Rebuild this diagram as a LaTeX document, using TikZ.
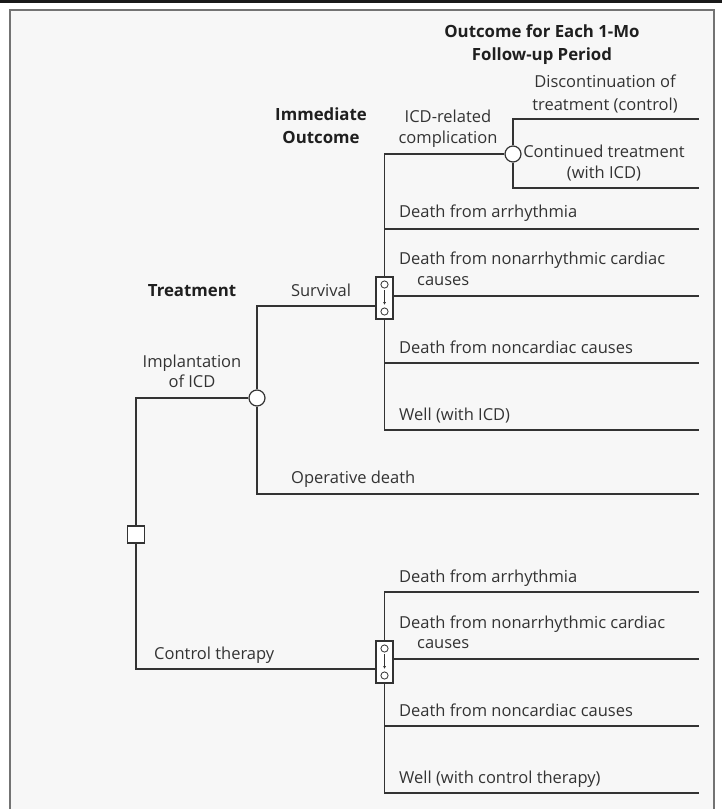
\documentclass[tikz,border=0pt]{standalone}
\usepackage{fontspec}
\setmainfont{Open Sans}
\usetikzlibrary{arrows.meta}
\begin{document}
\begin{tikzpicture}[x=1pt,y=-1pt,
  txt/.style={inner sep=0pt, text=black!80, font=\fontsize{16.5}{19}\selectfont},
  lt/.style={txt, anchor=base west},
  ct/.style={txt, anchor=base},
  hd/.style={txt, anchor=base, font=\fontsize{16.8}{19}\selectfont\bfseries, text=black!88},
  br/.style={draw=black!80, line width=1.4pt},
  chance/.style={circle, draw=black!80, line width=1.2pt, fill=white, minimum size=16pt, inner sep=0pt},
  decision/.style={rectangle, draw=black!80, line width=1.2pt, fill=white, minimum size=17pt, inner sep=0pt},
  markov/.style={rectangle, draw=black!80, line width=1.2pt, fill=white, minimum width=17pt, minimum height=42pt, inner sep=0pt},
]
\useasboundingbox (0,0) rectangle (722,809);
% background and frame
\fill[white] (0,0) rectangle (722,809);
\fill[black!3] (10,10) rectangle (714,809);
\fill[black!90] (0,0) rectangle (722,3.2);
\draw[black!55, line width=2.6pt] (10,812) -- (10,10) -- (714,10) -- (714,812);

% nodes
\node[decision] (d) at (136,534.5) {};
\node[chance] (c1) at (257,398) {};
\node[chance] (c2) at (513,154) {};
\node[markov] (m1) at (384.5,298) {};
\node[markov] (m2) at (384.5,662) {};

% markov box contents
\foreach \m in {m1,m2}{
  \draw[black!80, line width=0.8pt] ([yshift=13.5pt]\m.center) circle (3.6pt);
  \draw[black!80, line width=0.8pt] ([yshift=-13.5pt]\m.center) circle (3.6pt);
  \draw[black!80, line width=0.8pt, -{Latex[length=3pt,width=3pt]}] ([yshift=8pt]\m.center) -- ([yshift=-7pt]\m.center);
}

% coordinates for free ends
\coordinate (ea) at (699,119);
\coordinate (eb) at (699,188);
\coordinate (e1) at (699,229);
\coordinate (s1) at (384.5,229);
\coordinate (e2) at (699,296);
\coordinate (e3) at (699,363);
\coordinate (s3) at (384.5,363);
\coordinate (e4) at (699,430);
\coordinate (eop) at (699,494);
\coordinate (f1) at (699,592);
\coordinate (f2) at (699,659);
\coordinate (f3) at (699,726);
\coordinate (t3) at (384.5,726);
\coordinate (f4) at (699,793);

% connectors
\draw[br] (c1.west) -| (d.north);
\draw[br] (d.south) |- ([yshift=-7pt]m2.west);
\draw[br] (c1.north) |- ([yshift=-8pt]m1.west);
\draw[br] (c1.south) |- (eop);
\draw[br] (m1.north) |- (c2.west);
\draw[br] (c2.north) |- (ea);
\draw[br] (c2.south) |- (eb);
\draw[br] (s1) -- (e1);
\draw[br] ([yshift=2pt]m1.east) -- (e2);
\draw[br] (s3) -- (e3);
\draw[br] (m1.south) |- (e4);
\draw[br] (m2.north) |- (f1);
\draw[br] ([yshift=3pt]m2.east) -- (f2);
\draw[br] (t3) -- (f3);
\draw[br] (m2.south) |- (f4);

% headings
\node[hd] (h1) at (542,37.5) {Outcome for Each 1-Mo};
\node[hd] (h2) at (542,60.5) {Follow-up Period};
\node[hd] (h3) at (321,120) {Immediate};
\node[hd] (h4) at (321,143) {Outcome};
\node[hd] (h5) at (192,296) {Treatment};

% labels
\node[ct] (l1) at (605,87) {Discontinuation of};
\node[ct] (l2) at (605,110) {treatment (control)};
\node[ct] (l3) at (448,122) {ICD-related};
\node[ct] (l4) at (448,143) {complication};
\node[ct] (l5) at (604,157) {Continued treatment};
\node[ct] (l6) at (604,178) {(with ICD)};
\node[lt] (l7) at (399,217) {Death from arrhythmia};
\node[lt] (l8) at (399,264) {Death from nonarrhythmic cardiac};
\node[lt] (l9) at (417,285) {causes};
\node[lt] (l10) at (399,353) {Death from noncardiac causes};
\node[lt] (l11) at (399,420) {Well (with ICD)};
\node[ct] (l12) at (321,296) {Survival};
\node[ct] (l13) at (192,367) {Implantation};
\node[ct] (l14) at (192,387) {of ICD};
\node[lt] (l15) at (291,483) {Operative death};
\node[lt] (l16) at (154,659) {Control therapy};
\node[lt] (l17) at (399,582) {Death from arrhythmia};
\node[lt] (l18) at (399,628) {Death from nonarrhythmic cardiac};
\node[lt] (l19) at (417,648) {causes};
\node[lt] (l20) at (399,716) {Death from noncardiac causes};
\node[lt] (l21) at (399,783) {Well (with control therapy)};
\end{tikzpicture}
\end{document}
